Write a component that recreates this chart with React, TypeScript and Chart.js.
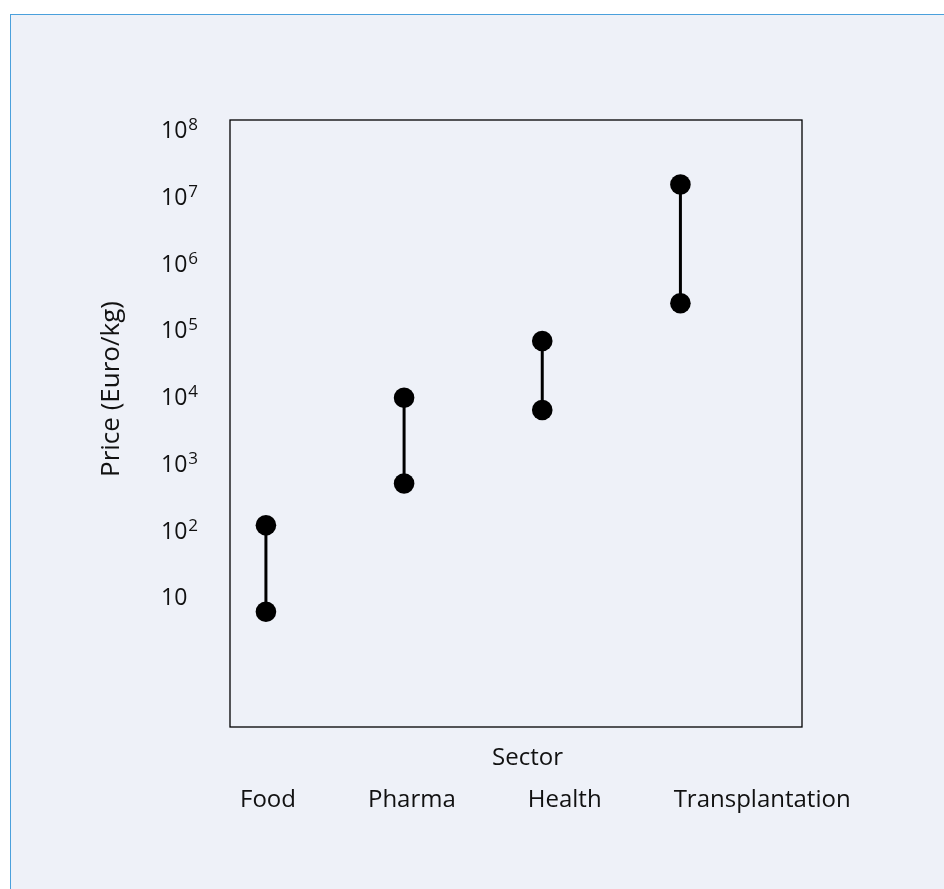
import React, { useEffect, useRef } from "react";
import { Chart, registerables } from "chart.js";

Chart.register(...registerables);

const categories = ["Food", "Pharma", "Health", "Transplantation"];
const lowPrices = [6, 500, 6300, 250000];
const highPrices = [118, 9600, 68000, 15000000];
const tickExponents = [1, 2, 3, 4, 5, 6, 7, 8];
const yTitle = "Price (Euro/kg)";
const xTitle = "Sector";

const FONT = "'Open Sans'";

const textPlugin = {
  id: "customText",
  afterDraw(chart: any) {
    const { ctx, chartArea, scales } = chart;
    const y = scales.y;
    ctx.save();
    // plot frame
    ctx.strokeStyle = "#000";
    ctx.lineWidth = 1.3;
    ctx.strokeRect(chartArea.left, chartArea.top, chartArea.right - chartArea.left, chartArea.bottom - chartArea.top);
    ctx.fillStyle = "#111";
    // y tick labels
    tickExponents.forEach((e) => {
      const py = y.getPixelForValue(Math.pow(10, e));
      ctx.font = `23px ${FONT}`;
      ctx.textAlign = "left";
      ctx.textBaseline = "alphabetic";
      const base = "10";
      ctx.fillText(base, 161, py + 8.5);
      if (e > 1) {
        const w = ctx.measureText(base).width;
        ctx.font = `17px ${FONT}`;
        ctx.fillText(String(e), 161 + w + 1, py + 0.5);
      }
    });
    // y title
    ctx.save();
    ctx.translate(112, 389);
    ctx.rotate(-Math.PI / 2);
    ctx.font = `26px ${FONT}`;
    ctx.textAlign = "center";
    ctx.textBaseline = "middle";
    ctx.fillText(yTitle, 0, 0);
    ctx.restore();
    // x title
    ctx.font = `24px ${FONT}`;
    ctx.textAlign = "center";
    ctx.textBaseline = "middle";
    ctx.fillText(xTitle, 527.5, 758);
    // category labels as a text row
    ctx.textAlign = "left";
    let x = 240;
    categories.forEach((c) => {
      ctx.fillText(c, x, 800);
      x += ctx.measureText(c).width + 72;
    });
    ctx.restore();
  },
};

export default function App() {
  const ref = useRef<HTMLCanvasElement>(null);
  useEffect(() => {
    const canvas = ref.current!;
    const chart = new Chart(canvas, {
      type: "scatter",
      data: {
        datasets: categories.map((c, i) => ({
          label: c,
          data: [
            { x: i, y: lowPrices[i] },
            { x: i, y: highPrices[i] },
          ],
          showLine: true,
          borderColor: "#000",
          borderWidth: 3,
          pointRadius: 10.3,
          pointBackgroundColor: "#000",
          pointBorderWidth: 0,
        })),
      },
      options: {
        animation: false,
        responsive: false,
        maintainAspectRatio: false,
        layout: { padding: { left: 230, top: 120, right: 142, bottom: 162 } },
        plugins: { legend: { display: false }, tooltip: { enabled: false } },
        scales: {
          x: { type: "linear", display: false, min: -0.26, max: 3.88 },
          y: { type: "logarithmic", display: false, min: 0.1125, max: 1.39e8 },
        },
      },
      plugins: [textPlugin],
    });
    return () => chart.destroy();
  }, []);
  return (
    <div style={{ position: "fixed", inset: 0, overflow: "hidden", background: "#fff" }}>
      <div
        style={{
          position: "absolute",
          left: 10,
          top: 14,
          width: 1000,
          height: 1000,
          border: "1.5px solid #4aa0dc",
          background: "#eef1f8",
        }}
      />
      <canvas ref={ref} width={944} height={889} style={{ position: "absolute", left: 0, top: 0, width: 944, height: 889 }} />
    </div>
  );
}
